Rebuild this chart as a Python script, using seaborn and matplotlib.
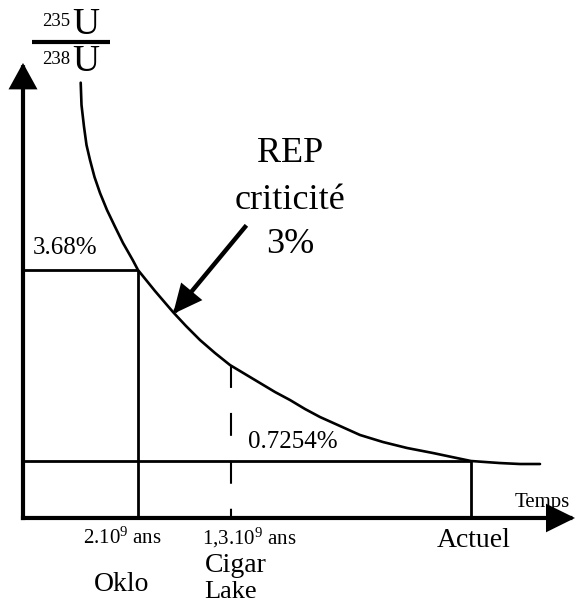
import matplotlib
matplotlib.use("Agg")
import matplotlib.pyplot as plt
from matplotlib.patches import FancyArrowPatch
import seaborn as sns
import pandas as pd

# ---- data (diagram units: x = time position, y = 235U/238U in %) ----
curve_x = [1.154, 1.17, 1.22, 1.27, 1.34, 1.43, 1.54, 1.68, 1.84, 2.00, 2.194, 2.30,
           2.64, 3.00, 3.26, 3.54, 3.84, 4.14, 4.44, 4.74, 5.04, 5.34, 5.64, 5.94,
           6.34, 6.74, 7.20, 7.68, 8.20, 8.58, 8.96, 9.54, 9.94, 10.34]
curve_ratio = [6.578, 6.233, 5.897, 5.614, 5.382, 5.119, 4.872, 4.608, 4.350, 4.098,
               3.835, 3.68, 3.355, 3.030, 2.814, 2.597, 2.396, 2.210, 2.071, 1.932,
               1.793, 1.669, 1.530, 1.406, 1.267, 1.128, 1.019, 0.927, 0.849, 0.787,
               0.7254, 0.694, 0.679, 0.679]

milestone_names = ["Oklo", "Cigar Lake", "Actuel"]
milestone_x = [2.30, 4.16, 8.96]
milestone_ratio = [3.68, 2.21, 0.7254]
ratio_labels = ["3.68%", "0.7254%"]
date_labels = [r"2.10$^{9}$ ans", r"1,3.10$^{9}$ ans", "Actuel"]
site_labels = ["Oklo", "Cigar", "Lake"]
rep_x, rep_ratio = 3.00, 3.0

# ---- style ----
sns.set_theme(style="white")
plt.rcParams["font.family"] = ["Liberation Serif", "DejaVu Serif"]
plt.rcParams["mathtext.fontset"] = "custom"
plt.rcParams["mathtext.rm"] = "Liberation Serif"
plt.rcParams["mathtext.default"] = "regular"
plt.rcParams["text.color"] = "black"

fig = plt.figure(figsize=(5.76, 6.05), dpi=100)
ax = fig.add_axes([0, 0, 1, 1])
ax.set_xlim(-0.46, 11.06)
ax.set_ylim(-1.502, 7.857)
ax.axis("off")
axis_y = -0.156
K = "#000000"

df = pd.DataFrame({"x": curve_x, "ratio": curve_ratio})
sns.lineplot(data=df, x="x", y="ratio", ax=ax, color=K, lw=1.9,
             estimator=None, sort=False)

# reference rectangles
ax.hlines([milestone_ratio[0], milestone_ratio[2]], 0,
          [milestone_x[0], milestone_x[2]], color=K, lw=2.0)
ax.vlines([milestone_x[0], milestone_x[2]], axis_y,
          [milestone_ratio[0], milestone_ratio[2]], color=K, lw=2.0)
ax.plot([milestone_x[1], milestone_x[1]], [milestone_ratio[1], axis_y],
        color=K, lw=1.5, dashes=(11, 12))

# axes arrows
def arrow(p0, p1, lw, hl, hw):
    a = FancyArrowPatch(p0, p1, arrowstyle=f"-|>,head_length={hl},head_width={hw}",
                        mutation_scale=1, lw=lw, color=K, shrinkA=0, shrinkB=0,
                        joinstyle="miter", capstyle="projecting")
    ax.add_patch(a)

arrow((0, axis_y), (0, 6.883), 3.0, 14.4, 7.9)
arrow((0, axis_y), (11.04, axis_y), 3.0, 16.0, 7.9)

# REP arrow
arrow((4.44, 4.345), (rep_x, rep_ratio), 3.2, 15.8, 7.4)
ax.text(5.34, 5.49, "REP", ha="center", va="center", fontsize=26)
ax.text(5.34, 4.763, "criticité", ha="center", va="center", fontsize=26)
ax.text(5.34, 4.067, "3%", ha="center", va="center", fontsize=26)

# ratio labels
ax.text(0.20, 4.02, ratio_labels[0], ha="left", va="center", fontsize=18)
ax.text(4.50, 1.02, ratio_labels[1], ha="left", va="center", fontsize=18)

# x labels
ax.text(9.84, 0.09, "Temps", ha="left", va="center", fontsize=15)
ax.text(1.98, -0.466, date_labels[0], ha="center", va="center", fontsize=15)
ax.text(4.52, -0.466, date_labels[1], ha="center", va="center", fontsize=15)
ax.text(9.01, -0.50, date_labels[2], ha="center", va="center", fontsize=20)
ax.text(1.97, -1.19, site_labels[0], ha="center", va="center", fontsize=20)
ax.text(4.26, -0.89, site_labels[1], ha="center", va="center", fontsize=20)
ax.text(4.16, -1.30, site_labels[2], ha="center", va="center", fontsize=19)

# y label: 235U / 238U
ax.plot([0.18, 1.74], [7.207, 7.207], color=K, lw=3.0, solid_capstyle="butt")
ax.text(0.94, 7.517, "235", ha="right", va="center", fontsize=13.5)
ax.text(0.98, 7.48, "U", ha="left", va="center", fontsize=27)
ax.text(0.94, 6.93, "238", ha="right", va="center", fontsize=13.5)
ax.text(0.98, 6.90, "U", ha="left", va="center", fontsize=27)

fig.savefig("out.png", dpi=100)
